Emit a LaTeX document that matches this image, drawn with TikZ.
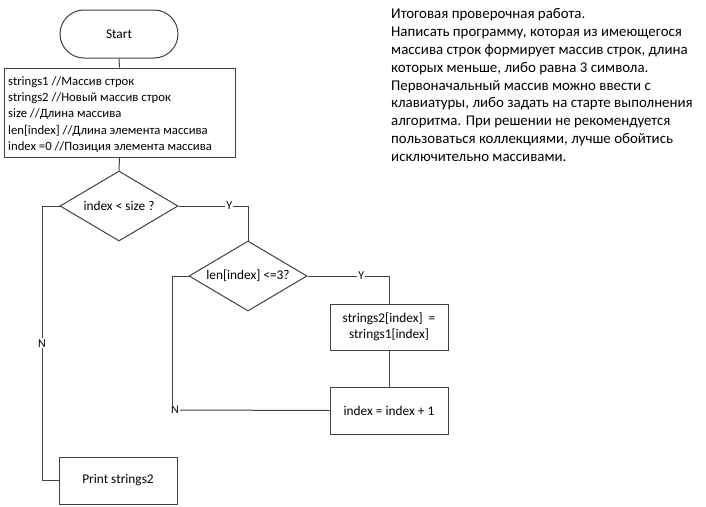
\documentclass[tikz,border=0pt]{standalone}
\usepackage{fontspec}
\setmainfont{Carlito}
\usetikzlibrary{shapes.geometric}
\begin{document}
\begin{tikzpicture}[x=1pt,y=-1pt,
  every node/.style={font=\fontsize{13.33}{16.3}\selectfont},
  line/.style={draw=black!75,line width=1pt},
  term/.style={line,rectangle,rounded corners=24pt,minimum width=118pt,minimum height=48pt,inner sep=0pt},
  procbox/.style={line,rectangle,minimum width=118pt,minimum height=47pt,inner sep=0pt,align=center},
  decision/.style={line,diamond,minimum width=118pt,minimum height=70pt,inner sep=0pt,aspect=1.7},
  lbl/.style={fill=white,inner sep=1pt,font=\fontsize{12}{14}\selectfont}
]
\useasboundingbox (0,0) rectangle (706,506);
\node[term] (start) at (119,34) {Start};
\node[line,rectangle,minimum width=231pt,minimum height=89pt,inner sep=0pt] (init) at (119.5,112.5) {};
\node[anchor=west,align=left,inner sep=0pt,font=\fontsize{12.7}{16.3}\selectfont] (inittext) at (8,114.5) {strings1 //Массив строк\\strings2 //Новый массив строк\\size //Длина массива\\len[index] //Длина элемента массива\\index =0 //Позиция элемента массива};
\node[decision] (d1) at (119,206) {index < size ?};
\node[decision] (d2) at (248,276) {len[index] <=3?};
\node[procbox,minimum height=46pt] (b3) at (389,327) {strings2[index]\ \ =\\strings1[index]};
\node[procbox] (b4) at (389,410.5) {index = index + 1};
\node[procbox] (b5) at (118,480.5) {Print strings2};
\coordinate (c1) at (248,206);
\coordinate (c2) at (389,276);
\coordinate (c3) at (172,276);
\coordinate (c4) at (42,206);
\coordinate (c5) at (42,480.5);
\draw[line] (start.south) -- (init.north);
\draw[line] (init.south) -- (d1.north);
\draw[line] (d1.east) -- node[lbl,pos=0.73] {Y} (c1) -- (d2.north);
\draw[line] (d2.east) -- node[lbl,pos=0.66] {Y} (c2) -- (b3.north);
\draw[line] (b3.south) -- (b4.north);
\node[lbl] (n2) at (175,410) {N};
\draw[line] (b4.west) -- (n2.east);
\draw[line] (n2.north -| c3) -- (c3) -- (d2.west);
\draw[line] (d1.west) -- (c4) -- node[lbl,pos=0.5] {N} (c5) -- (b5.west);
\node[anchor=north west,align=left,inner sep=0pt,font=\fontsize{14.9}{17.8}\selectfont] (task) at (391,8.5) {Итоговая проверочная работа.\\Написать программу, которая из имеющегося\\массива строк формирует массив строк, длина\\которых меньше, либо равна 3 символа.\\Первоначальный массив можно ввести с\\клавиатуры, либо задать на старте выполнения\\алгоритма. При решении не рекомендуется\\пользоваться коллекциями, лучше обойтись\\исключительно массивами.};
\end{tikzpicture}
\end{document}
